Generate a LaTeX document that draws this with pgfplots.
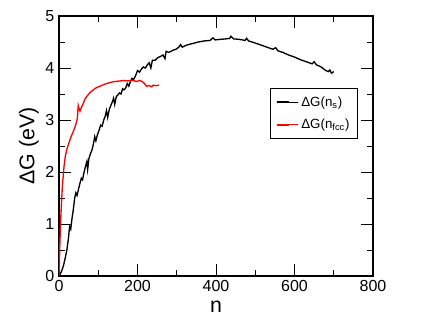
\documentclass[border=0pt]{standalone}
\usepackage{fontspec}
\setmainfont{Liberation Sans}
\usepackage{pgfplots}
\pgfplotsset{compat=1.18}

\begin{document}
\begin{tikzpicture}
% 1 px of the reference = 0.75pt
\useasboundingbox (-44.25pt,-38.25pt) rectangle (282.75pt,207pt);
\begin{axis}[
    scale only axis,
    width=235.5pt,
    height=195pt,
    xmin=0, xmax=800,
    ymin=0, ymax=5,
    xtick={0,200,400,600,800},
    ytick={0,1,2,3,4,5},
    minor x tick num=1,
    minor y tick num=1,
    major tick length=9pt,
    minor tick length=4.5pt,
    tick style={black, line width=0.6pt},
    axis line style={line width=0.8pt},
    /pgf/number format/assume math mode=true,
    tick label style={font=\fontsize{12}{14}\selectfont},
    label style={font=\fontsize{16}{19}\selectfont},
    xlabel={n},
    ylabel={ΔG (eV)},
    xlabel style={yshift=0pt},
    ylabel style={yshift=-2pt},
    legend style={at={(0.672,0.723)}, anchor=north west,
        draw=black, line width=0.6pt,
        font=\fontsize{10}{13}\selectfont,
        inner xsep=4pt, inner ysep=4pt, row sep=4pt},
    legend cell align=left,
    legend image code/.code={
        \draw[#1, line width=1.4pt] (0pt,0pt) -- (9pt,0pt);
        \path (0pt,0pt) -- (16pt,0pt);
    },
]
\addplot[black, line width=1pt] coordinates {
(0,0) (4,0.05) (8,0.12) (12,0.22) (16,0.35) (20,0.5) (24,0.72) (27,0.95)
(30,0.9) (33,1.1) (36,1.25) (40,1.5) (43,1.6) (46,1.55) (50,1.68) (54,1.8)
(57,1.88) (60,1.85) (64,2.0) (68,2.12) (71,2.2) (73,2.05) (76,2.25) (80,2.35)
(84,2.42) (88,2.55) (91,2.68) (94,2.6) (98,2.72) (102,2.8) (106,2.9) (110,2.88)
(114,3.0) (118,3.08) (121,3.18) (124,3.05) (128,3.2) (132,3.28) (136,3.35)
(139,3.42) (142,3.3) (146,3.45) (150,3.48) (154,3.52) (158,3.5) (162,3.6)
(166,3.58) (170,3.62) (174,3.7) (178,3.65) (182,3.74) (186,3.8) (190,3.78)
(195,3.85) (200,3.95) (205,3.92) (210,3.98) (215,4.02) (220,4.0) (225,4.06)
(230,4.1) (234,4.0) (238,4.15) (245,4.15) (252,4.2) (258,4.22) (265,4.25)
(270,4.18) (273,4.32) (280,4.3) (290,4.34) (298,4.36) (305,4.4) (310,4.45)
(314,4.4) (325,4.44) (340,4.47) (355,4.5) (370,4.52) (385,4.53) (392,4.58)
(398,4.54) (410,4.55) (425,4.56) (435,4.57) (438,4.61) (445,4.56) (460,4.55)
(474,4.53) (478,4.57) (483,4.52) (500,4.48) (515,4.44) (530,4.4) (545,4.36)
(552,4.39) (558,4.33) (570,4.3) (585,4.25) (600,4.21) (615,4.16) (630,4.12)
(645,4.08) (650,4.12) (656,4.06) (668,4.02) (678,3.96) (686,3.93) (690,3.96)
(694,3.9) (700,3.93)
};
\addlegendentry{ΔG(n\textsubscript{s})}
\addplot[red, line width=1pt] coordinates {
(0,0) (2.5,0.69) (5,1.2) (8.5,1.72) (12.7,2.1) (16,2.3) (19.5,2.42) (24,2.53)
(28,2.62) (32,2.7) (36.5,2.78) (41,2.87) (45,2.97) (47,3.05) (49,3.28)
(51,3.22) (53.5,3.17) (57,3.24) (62,3.32) (66,3.4) (70.5,3.45) (78,3.52)
(87.5,3.58) (95,3.62) (104.5,3.65) (117,3.69) (130,3.72) (142,3.74)
(155,3.75) (165,3.76) (172,3.75) (180,3.76) (189,3.76) (198,3.74) (206,3.76)
(212,3.74) (218,3.70) (223,3.65) (230,3.66) (236,3.64) (240,3.67)
(247,3.66) (255,3.67)
};
\addlegendentry{ΔG(n\textsubscript{fcc})}
\end{axis}
\end{tikzpicture}
\end{document}
